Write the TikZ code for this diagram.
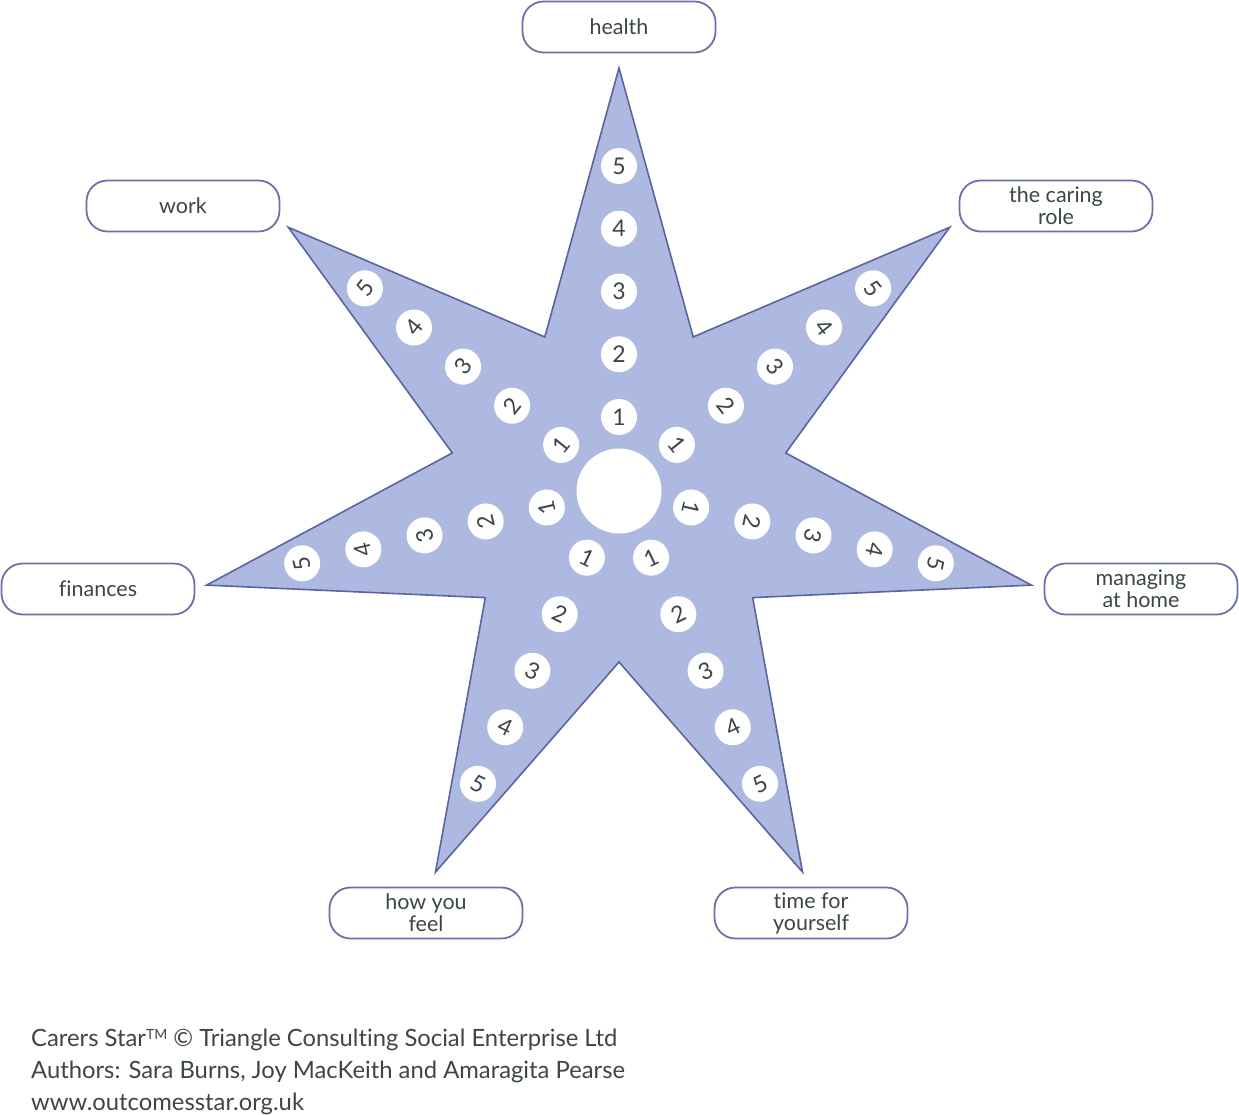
\documentclass[tikz,border=0pt]{standalone}
\usepackage{fontspec}
\setmainfont[Ligatures={NoCommon,NoRare,NoDiscretionary}]{Lato}
\definecolor{starfill}{HTML}{ADB9E0}
\definecolor{starline}{HTML}{5B64A0}
\definecolor{boxline}{HTML}{6A72A8}
\definecolor{txt}{HTML}{3C4646}
\tikzset{
  lbl/.style={draw=boxline, line width=1.8pt, rounded corners=21pt, fill=white,
    minimum width=193pt, minimum height=51pt, align=center, inner sep=0pt,
    font=\fontsize{21.5}{22}\selectfont, text=txt},
  score/.style={circle, fill=white, minimum size=36pt, inner sep=0pt,
    font=\fontsize{23}{23}\selectfont, text=txt},
  foot/.style={anchor=base west, inner sep=0pt, font=\fontsize{23.8}{24}\selectfont, text=txt}
}
\begin{document}
\begin{tikzpicture}[x=1pt,y=1pt]
\useasboundingbox (0,0) rectangle (1239,-1115);
\coordinate (C) at (619,-491);
\foreach \k in {0,...,6}{
  \path (C) ++({90+\k*360/7}:423) coordinate (t\k);
  \path (C) ++({90+180/7+\k*360/7}:171) coordinate (i\k);
}
\filldraw[fill=starfill, draw=starline, line width=1.6pt, line join=miter]
  (t0) -- (i0) -- (t1) -- (i1) -- (t2) -- (i2) -- (t3) -- (i3) -- (t4) -- (i4)
  -- (t5) -- (i5) -- (t6) -- (i6) -- cycle;
\node[circle, fill=white, minimum size=85pt, inner sep=0pt] (hub) at (C) {};
\foreach \k in {0,...,6}{
  \pgfmathsetmacro{\ang}{90+\k*360/7}
  \ifnum\k=3 \pgfmathsetmacro{\rot}{\ang+90}\else
  \ifnum\k=4 \pgfmathsetmacro{\rot}{\ang+90}\else
  \pgfmathsetmacro{\rot}{\ang-90}\fi\fi
  \foreach \n in {1,...,5}{
    \path (C) ++(\ang:{74+62.75*(\n-1)}) node[score, rotate=\rot] (d\k-\n) {\n};
  }
}
\node[lbl] (health) at (619,-27) {health};
\node[lbl] (work) at (183,-206) {work};
\node[lbl] (caring) at (1056,-206) {the caring\\role};
\node[lbl] (finances) at (98,-589) {finances};
\node[lbl] (managing) at (1141,-589) {managing\\at home};
\node[lbl] (feel) at (426,-913) {how you\\feel};
\node[lbl] (time) at (811,-913) {time for\\yourself};
\node[foot] (f1) at (31,-1046) {Carers Star\raisebox{0.55ex}{\fontsize{14}{14}\selectfont TM} © Triangle Consulting Social Enterprise Ltd};
\node[foot] (f2) at (31,-1078) {Authors: Sara Burns, Joy MacKeith and Amaragita Pearse};
\node[foot] (f3) at (31,-1110) {www.outcomesstar.org.uk};
\end{tikzpicture}
\end{document}
